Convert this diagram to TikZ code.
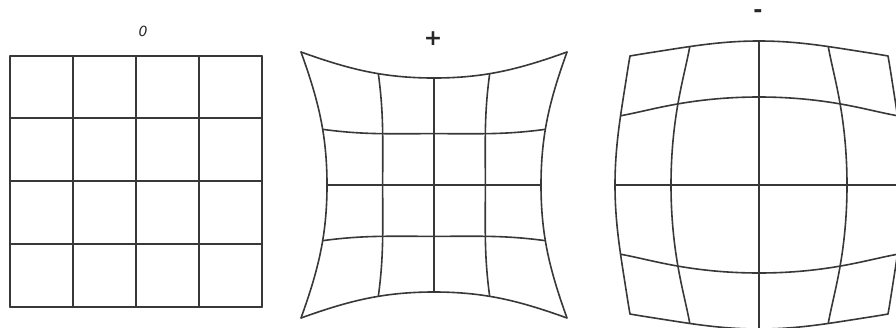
\documentclass[tikz,border=0pt]{standalone}
\usepackage{fontspec}
\newfontfamily\lblfont{DejaVu Sans}
\tikzset{
  gridline/.style={draw=black!78, line width=1.6pt, line join=round, line cap=round},
  lbl/.style={inner sep=0pt, text=black!85}
}
\begin{document}
\begin{tikzpicture}[x=1pt,y=-1pt,
  declare function={gp(\t)=104.1-8.67*\t+11.56*\t*\t;
    gb(\t)=193.7-79.4*\t+35.88*\t*\t-6.177*\t*\t*\t;}]
\useasboundingbox (0,0) rectangle (896,327);
\clip (0,0) rectangle (896,327);
% undistorted grid
\foreach \gx in {10,73,136,199,262}{
  \draw[gridline] (\gx,56) -- (\gx,307);
}
\foreach \gy in {56,118,181,244,307}{
  \draw[gridline] (10,\gy) -- (262,\gy);
}
\node[lbl, font=\fontsize{14}{14}\selectfont\lblfont\itshape] (l0) at (143,31) {0};
% pincushion
\begin{scope}[shift={(434,185)}]
\foreach \u in {-1,-0.5,0,0.5,1}{
  \draw[gridline] plot[domain=-1:1, samples=61, smooth]
    ({\u*gp(\u*\u+\x*\x)},{\x*gp(\u*\u+\x*\x)});
  \draw[gridline] plot[domain=-1:1, samples=61, smooth]
    ({\x*gp(\u*\u+\x*\x)},{\u*gp(\u*\u+\x*\x)});
}
\end{scope}
\node[lbl, font=\fontsize{22}{22}\selectfont\lblfont\bfseries] (lp) at (433,39) {+};
% barrel
\begin{scope}[shift={(759,185)}]
\foreach \u in {-1,-0.5,0,0.5,1}{
  \draw[gridline] plot[domain=-1:1, samples=61, smooth]
    ({\u*gb(\u*\u+\x*\x)},{\x*gb(\u*\u+\x*\x)});
  \draw[gridline] plot[domain=-1:1, samples=61, smooth]
    ({\x*gb(\u*\u+\x*\x)},{\u*gb(\u*\u+\x*\x)});
}
\end{scope}
\node[lbl, font=\fontsize{22}{22}\selectfont\lblfont\bfseries] (lm) at (758,14) {-};
\end{tikzpicture}
\end{document}
